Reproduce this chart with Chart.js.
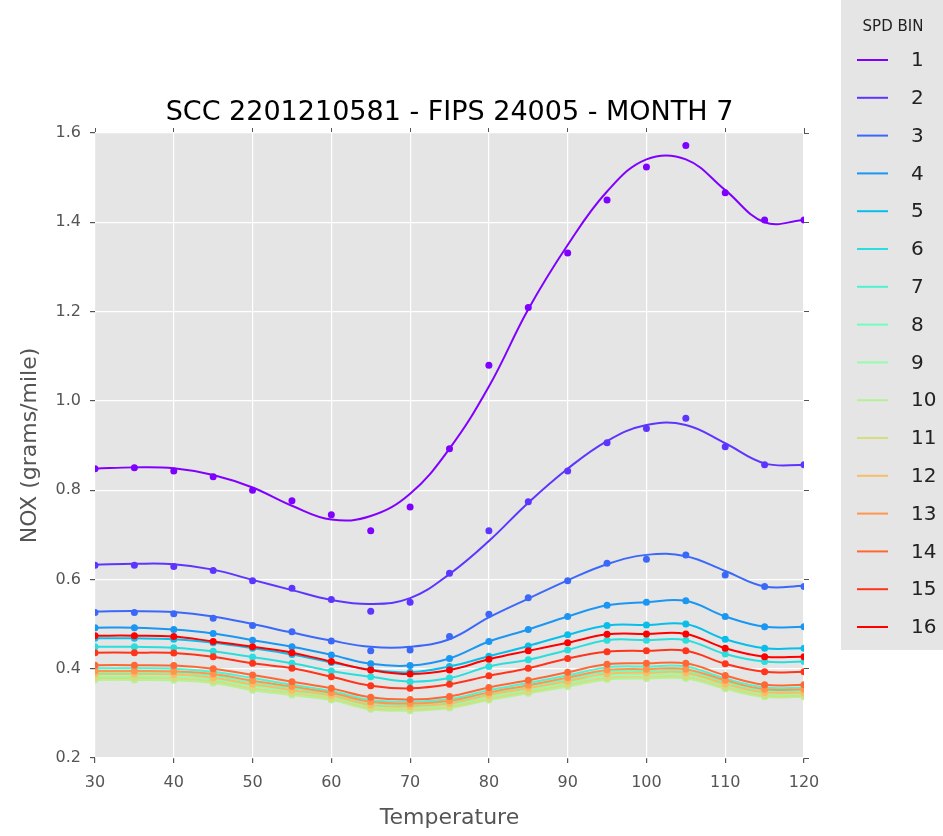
<!DOCTYPE html>
<html>
<head>
<meta charset="utf-8">
<script src="https://cdn.jsdelivr.net/npm/chart.js@4.4.0/dist/chart.umd.min.js"></script>
<style>
  html, body { margin: 0; padding: 0; background: #fff; }
  #wrap { width: 943px; height: 836px; }
</style>
</head>
<body>
<div id="wrap"><canvas id="myChart" width="943" height="836"></canvas></div>
<script>
// temperatures (x) shared by every speed bin
const temps = [30,35,40,45,50,55,60,65,70,75,80,85,90,95,100,105,110,115,120];

// measured NOX per speed bin (dots)
const spd1  = [0.848,0.850,0.843,0.830,0.800,0.776,0.745,0.709,0.762,0.893,1.080,1.209,1.331,1.450,1.524,1.572,1.466,1.405,1.405];
const spd2  = [0.632,0.632,0.629,0.620,0.597,0.580,0.555,0.529,0.549,0.614,0.709,0.774,0.843,0.906,0.938,0.961,0.897,0.857,0.857];
const spd3  = [0.526,0.526,0.523,0.513,0.497,0.483,0.462,0.440,0.442,0.472,0.522,0.559,0.597,0.636,0.645,0.655,0.610,0.584,0.584];
const spd4  = [0.492,0.492,0.488,0.479,0.464,0.449,0.431,0.411,0.407,0.423,0.461,0.488,0.517,0.542,0.549,0.552,0.517,0.494,0.494];
const spd5  = [0.468,0.468,0.466,0.458,0.446,0.432,0.414,0.398,0.392,0.405,0.428,0.451,0.476,0.497,0.498,0.500,0.466,0.446,0.446];
const spd6  = [0.449,0.449,0.447,0.439,0.426,0.412,0.395,0.382,0.371,0.379,0.405,0.420,0.442,0.464,0.464,0.464,0.433,0.416,0.416];
const spd7  = [0.401,0.401,0.400,0.393,0.379,0.364,0.350,0.330,0.326,0.332,0.352,0.368,0.385,0.403,0.405,0.405,0.378,0.358,0.358];
const spd8  = [0.392,0.392,0.391,0.384,0.369,0.356,0.343,0.323,0.319,0.325,0.344,0.360,0.376,0.393,0.395,0.395,0.370,0.351,0.351];
const spd9  = [0.383,0.383,0.382,0.376,0.361,0.349,0.337,0.316,0.312,0.319,0.337,0.352,0.368,0.385,0.387,0.387,0.363,0.344,0.344];
const spd10 = [0.375,0.375,0.374,0.368,0.352,0.341,0.330,0.309,0.306,0.312,0.330,0.345,0.360,0.376,0.378,0.378,0.355,0.337,0.337];
const spd11 = [0.379,0.379,0.378,0.372,0.356,0.345,0.333,0.312,0.309,0.315,0.333,0.348,0.364,0.380,0.382,0.382,0.359,0.340,0.340];
const spd12 = [0.388,0.388,0.387,0.380,0.365,0.352,0.340,0.319,0.316,0.322,0.341,0.356,0.372,0.389,0.391,0.391,0.366,0.347,0.347];
const spd13 = [0.395,0.395,0.394,0.388,0.373,0.360,0.346,0.326,0.322,0.328,0.347,0.363,0.380,0.397,0.399,0.399,0.374,0.354,0.354];
const spd14 = [0.408,0.408,0.407,0.400,0.386,0.371,0.356,0.336,0.331,0.338,0.358,0.374,0.392,0.410,0.412,0.412,0.385,0.364,0.364];
const spd15 = [0.436,0.436,0.435,0.427,0.412,0.401,0.382,0.362,0.356,0.365,0.384,0.401,0.423,0.438,0.440,0.440,0.411,0.393,0.393];
const spd16 = [0.474,0.474,0.472,0.461,0.449,0.436,0.416,0.397,0.388,0.397,0.421,0.440,0.458,0.477,0.478,0.478,0.446,0.427,0.427];

const fit1 = [0.848,0.851,0.849,0.834,0.806,0.765,0.734,0.742,0.792,0.893,1.032,1.205,1.349,1.469,1.541,1.541,1.472,1.400,1.405];
const fit2 = [0.633,0.635,0.634,0.622,0.599,0.576,0.554,0.545,0.558,0.612,0.686,0.772,0.848,0.910,0.946,0.946,0.905,0.860,0.856];
const fit3 = [0.528,0.529,0.527,0.517,0.500,0.481,0.463,0.449,0.449,0.466,0.515,0.557,0.598,0.634,0.655,0.652,0.619,0.584,0.586];

const spdBins = ['1','2','3','4','5','6','7','8','9','10','11','12','13','14','15','16'];
const yTicks = [0.2,0.4,0.6,0.8,1.0,1.2,1.4,1.6];
const xTicks = [30,40,50,60,70,80,90,100,110,120];

const binColors = [
  'rgb(128,0,255)','rgb(94,53,254)','rgb(60,104,249)','rgb(26,150,243)',
  'rgb(9,190,233)','rgb(43,221,221)','rgb(77,243,206)','rgb(111,254,190)',
  'rgb(145,254,171)','rgb(179,243,150)','rgb(213,221,128)','rgb(246,190,104)',
  'rgb(255,150,79)','rgb(255,104,53)','rgb(255,53,27)','rgb(255,0,0)'
];

const seriesValues = [spd1,spd2,spd3,spd4,spd5,spd6,spd7,spd8,spd9,spd10,spd11,spd12,spd13,spd14,spd15,spd16];
const fitValues = [fit1, fit2, fit3];

Chart.defaults.font.family = '"DejaVu Sans", sans-serif';

function toPoints(values) {
  return values.map((v, i) => ({ x: temps[i], y: v }));
}

const datasets = [];
seriesValues.forEach((values, i) => {
  const curve = fitValues[i] || values;
  datasets.push({
    label: 'fit ' + spdBins[i],
    data: toPoints(curve),
    borderColor: binColors[i],
    borderWidth: 2,
    pointRadius: 0,
    tension: 0.4,
    fill: false,
    order: 2 * (16 - i)
  });
  datasets.push({
    label: spdBins[i],
    data: toPoints(values),
    showLine: false,
    backgroundColor: binColors[i],
    borderColor: binColors[i],
    pointRadius: 3.5,
    pointBorderWidth: 0,
    order: 2 * (16 - i) - 1
  });
});

const plotBackground = {
  id: 'plotBackground',
  beforeDraw(chart) {
    const { ctx, chartArea: a } = chart;
    ctx.save();
    ctx.fillStyle = '#e5e5e5';
    ctx.fillRect(a.left, a.top, a.right - a.left, a.bottom - a.top);
    ctx.restore();
  }
};

const binLegend = {
  id: 'binLegend',
  afterDraw(chart) {
    const ctx = chart.ctx;
    ctx.save();
    ctx.fillStyle = '#e5e5e5';
    ctx.fillRect(841, 0, 110, 650);
    ctx.fillStyle = '#222';
    ctx.font = '15px "DejaVu Sans"';
    ctx.textAlign = 'center';
    ctx.textBaseline = 'middle';
    ctx.fillText('SPD BIN', 893, 27);
    ctx.font = '20px "DejaVu Sans"';
    ctx.textAlign = 'left';
    spdBins.forEach((b, i) => {
      const y = 60 + i * 37.8;
      ctx.strokeStyle = binColors[i];
      ctx.lineWidth = 2;
      ctx.beginPath();
      ctx.moveTo(857, y);
      ctx.lineTo(888, y);
      ctx.stroke();
      ctx.fillStyle = '#222';
      ctx.fillText(b, 911, y + 1);
    });
    ctx.restore();
  }
};

const axisTicks = (list) => (scale) => { scale.ticks = list.map(v => ({ value: v })); };

const config = {
  type: 'line',
  data: { datasets: datasets },
  options: {
    responsive: false,
    animation: false,
    layout: { padding: 0 },
    plugins: {
      legend: { display: false },
      tooltip: { enabled: false }
    },
    scales: {
      x: {
        type: 'linear', position: 'bottom', min: 30, max: 120,
        afterBuildTicks: axisTicks(xTicks),
        ticks: { color: '#555', font: { size: 16 }, padding: 10 },
        grid: { color: '#ffffff', lineWidth: 1.2, tickColor: '#555', tickLength: 5 },
        border: { display: false },
        title: { display: true, text: 'Temperature', color: '#555', font: { size: 22 }, padding: { top: 0, bottom: 5 } },
        afterFit(s) { s.height = 78; }
      },
      x2: {
        type: 'linear', position: 'top', min: 30, max: 120,
        afterBuildTicks: axisTicks(xTicks),
        ticks: { display: false },
        grid: { drawOnChartArea: false, tickColor: '#555', tickLength: 5 },
        border: { display: false },
        title: { display: true, text: 'SCC 2201210581 - FIPS 24005 - MONTH 7', color: '#000', font: { size: 27 }, padding: { top: 97, bottom: 0 } },
        afterFit(s) { s.height = 133; }
      },
      y: {
        type: 'linear', position: 'left', min: 0.2, max: 1.6,
        afterBuildTicks: axisTicks(yTicks),
        ticks: { color: '#555', font: { size: 16 }, padding: 9, callback: v => v.toFixed(1) },
        grid: { color: '#ffffff', lineWidth: 1.2, tickColor: '#555', tickLength: 5 },
        border: { display: false },
        title: { display: true, text: 'NOX (grams/mile)', color: '#555', font: { size: 22 }, padding: { top: 17, bottom: 0 } },
        afterFit(s) { s.width = 95; }
      },
      y2: {
        type: 'linear', position: 'right', min: 0.2, max: 1.6,
        afterBuildTicks: axisTicks(yTicks),
        ticks: { display: false },
        grid: { drawOnChartArea: false, tickColor: '#555', tickLength: 5 },
        border: { display: false },
        afterFit(s) { s.width = 139; }
      }
    }
  },
  plugins: [plotBackground, binLegend]
};

const ctx = document.getElementById('myChart').getContext('2d');
new Chart(ctx, config);
</script>
</body>
</html>
